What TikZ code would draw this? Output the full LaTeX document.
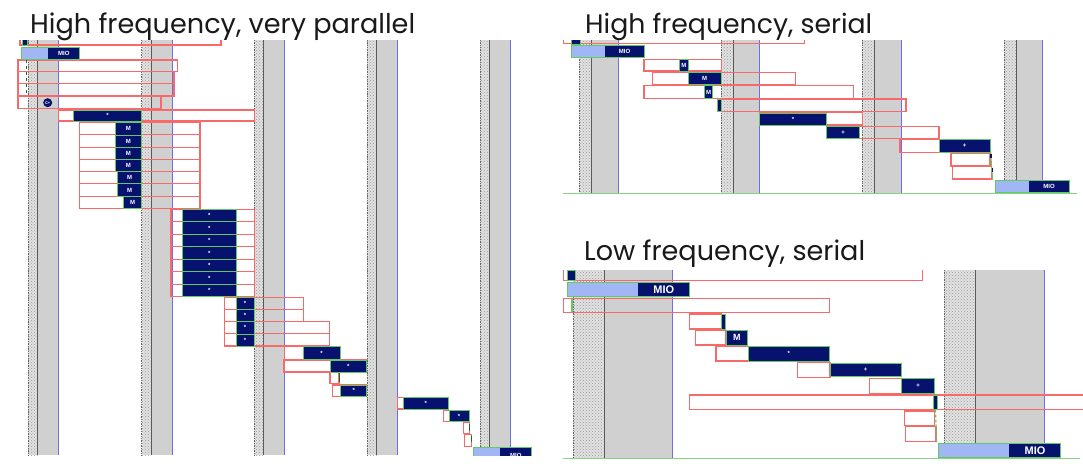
\documentclass[tikz,border=0pt]{standalone}
\usepackage{fontspec}
\setmainfont{Liberation Sans}
\newfontfamily\titlefont{Poppins}
\newfontfamily\labfont{Liberation Sans}
\usetikzlibrary{patterns}
\definecolor{navy}{RGB}{6,18,110}
\definecolor{bargreen}{RGB}{100,200,100}
\definecolor{redline}{RGB}{248,105,105}
\definecolor{lightblue}{RGB}{160,182,245}
\definecolor{graycol}{RGB}{208,208,208}
\definecolor{dotbg}{RGB}{226,226,226}
\definecolor{blueline}{RGB}{110,110,235}
\definecolor{dkgreen}{RGB}{20,110,40}
\definecolor{titlecol}{RGB}{25,25,25}
\newcounter{barno}
\tikzset{
  redbox/.style={draw=redline, line width=1.1pt},
  navybar/.style={fill=navy, draw=bargreen, line width=0.8pt},
  barlabel/.style={text=white, inner sep=0pt, font=\labfont\bfseries\fontsize{6}{6}\selectfont},
  biglabel/.style={text=white, inner sep=0pt, font=\labfont\bfseries\fontsize{11}{11}\selectfont},
  titlestyle/.style={text=titlecol, inner sep=0pt, anchor=base west},
  baseline line/.style={draw=bargreen!80, line width=1pt},
  depmark/.style={draw=dkgreen, line width=1.3pt},
}
% stripe: x, dotted width, gray width, ytop, ybottom
\newcommand\stripe[5]{%
  \fill[dotbg] (#1,#4) rectangle ({#1+#2},#5);
  \fill[pattern=crosshatch dots, pattern color=black!40] (#1,#4) rectangle ({#1+#2},#5);
  \fill[graycol] ({#1+#2},#4) rectangle ({#1+#2+#3},#5);
  \draw[black!60, densely dotted, line width=0.7pt] (#1,#4) -- (#1,#5);
  \draw[black!65, line width=0.8pt] ({#1+#2},#4) -- ({#1+#2},#5);
  \draw[blueline, line width=0.9pt] ({#1+#2+#3},#4) -- ({#1+#2+#3},#5);
}
\newcommand\rb[4]{\draw[redbox] (#1,#2) rectangle (#3,#4);}
% labelled navy bar: x1,y1,x2,y2,label
\newcommand\nb[5]{%
  \stepcounter{barno}%
  \draw[navybar] (#1,#2) rectangle (#3,#4);
  \node[barlabel] (bar\arabic{barno}) at ({(#1+#3)/2},{(#2+#4)/2}) {#5};
}
% unlabelled navy bar
\newcommand\nbx[4]{\draw[navybar] (#1,#2) rectangle (#3,#4);}
% MIO bar: x1,y1,xmid,x2,y2,style
\newcommand\mio[6]{%
  \stepcounter{barno}%
  \fill[lightblue] (#1,#2) rectangle (#3,#5);
  \fill[navy] (#3,#2) rectangle (#4,#5);
  \draw[bargreen, line width=0.8pt] (#1,#2) rectangle (#4,#5);
  \node[#6] (mio\arabic{barno}) at ({(#3+#4)/2},{(#2+#5)/2}) {MIO};
}
\begin{document}
\begin{tikzpicture}[x=1pt,y=-1pt]
\useasboundingbox (0,0) rectangle (1083,463);
\fill[white] (0,0) rectangle (1083,463);

% ---------------- titles ----------------
\node[titlestyle] (title1) at (30,33.3) {\resizebox{385pt}{!}{\titlefont High frequency, very parallel}};
\node[titlestyle] (title2) at (585,33.3) {\resizebox{287pt}{!}{\titlefont High frequency, serial}};
\node[titlestyle] (title3) at (584,260) {\resizebox{281pt}{!}{\titlefont Low frequency, serial}};

% ---------------- left panel ----------------
\begin{scope}
\clip (15,40) rectangle (540,455);
\foreach \cx in {28,141.7,254.3,367,480} {\stripe{\cx}{9.5}{21}{40}{455}}
% red boxes
\rb{20}{30}{221}{45}
\rb{18}{60}{177.7}{71.7}
\rb{18}{71.7}{174}{83.3}
\rb{18}{83.3}{174}{96}
\rb{18}{96}{161}{108.3}
\rb{58.3}{110}{254.3}{121}
\foreach \i in {0,...,6} {
  \pgfmathsetmacro\ya{122.7+\i*12.23}\pgfmathsetmacro\yb{\ya+12.23}
  \rb{79.3}{\ya}{200}{\yb}
}
\foreach \i in {0,...,6} {
  \pgfmathsetmacro\ya{209.3+\i*12.486}\pgfmathsetmacro\yb{\ya+12.486}
  \rb{171}{\ya}{254.3}{\yb}
}
\foreach \i/\xr in {0/303.3,1/303.3,2/329.3,3/329.3} {
  \pgfmathsetmacro\ya{297.7+\i*12.075}\pgfmathsetmacro\yb{\ya+12.075}
  \rb{224.3}{\ya}{\xr}{\yb}
}
\rb{284.3}{346.7}{340}{359.3}
\rb{284}{360}{366.7}{372}
\rb{330}{371.7}{339}{383.3}
\rb{332.3}{385}{366.7}{396.7}
\rb{397.3}{397.7}{448.3}{409}
\rb{443.3}{410.7}{469}{421.7}
\rb{463.3}{422.3}{469.3}{433.3}
\rb{464.3}{434.3}{471.7}{446.7}
% navy bars
\nbx{22}{38}{27}{45}
\mio{21.7}{47.3}{48.3}{79.3}{59}{barlabel}
\draw[dkgreen, dashed, line width=1.2pt] (26.7,60) -- (26.7,95);
\node[circle, fill=navy, inner sep=0pt, minimum size=9pt, text=white,
      font=\labfont\bfseries\fontsize{4}{4}\selectfont] (cplus) at (47.7,102.7) {C+};
\nb{73.3}{110}{141.7}{121}{*}
\foreach \i/\xl in {0/115,1/115,2/115,3/115,4/117.3,5/117.3,6/123.3} {
  \pgfmathsetmacro\ya{122.7+\i*12.23}\pgfmathsetmacro\yb{\ya+12.23}
  \nb{\xl}{\ya}{141.7}{\yb}{M}
}
\foreach \i in {0,...,6} {
  \pgfmathsetmacro\ya{209.3+\i*12.486}\pgfmathsetmacro\yb{\ya+12.486}
  \nb{182.7}{\ya}{236}{\yb}{*}
}
\foreach \i in {0,...,3} {
  \pgfmathsetmacro\ya{297.7+\i*12.075}\pgfmathsetmacro\yb{\ya+12.075}
  \nb{236}{\ya}{254.3}{\yb}{*}
}
\nb{303.3}{346.7}{340}{359.3}{*}
\nb{330}{360}{366.7}{372}{*}
\draw[depmark] (339.3,373) -- (339.3,382);
\nb{340.7}{385}{366.7}{396.7}{*}
\nb{403.3}{397.7}{448.3}{409}{*}
\nb{449}{410.7}{469}{421.7}{*}
\draw[depmark] (469.8,424) -- (469.8,431);
\draw[depmark] (471.8,436) -- (471.8,442);
\mio{473.3}{447.7}{500}{531.7}{463}{barlabel}
\end{scope}

% ---------------- top right panel ----------------
\begin{scope}
\clip (563,40) rectangle (1080,195);
\foreach \cx in {579.3,721,862.3,1004} {\stripe{\cx}{12.3}{26.6}{40}{193.3}}
\draw[baseline line] (563,193.3) -- (1077,193.3);
\rb{563}{30}{804.3}{43.3}
\rb{644}{59.3}{721.7}{71}
\rb{652.7}{72.3}{795.7}{84.3}
\rb{644}{85.7}{853.3}{98.3}
\rb{717.3}{99}{906}{111.7}
\rb{759.3}{112.5}{862.3}{125}
\rb{826.7}{126.7}{939}{138.3}
\rb{900}{139.3}{990}{152.3}
\rb{951}{153.3}{990}{166}
\rb{952.7}{166.7}{991.7}{179}
\nbx{571.7}{38}{580}{44}
\mio{571}{45.7}{605}{644}{57.3}{barlabel}
\nb{679.3}{59.3}{688.3}{71}{M}
\nb{688.3}{72.3}{721}{84.3}{M}
\nb{704.3}{85.7}{712.7}{98.3}{M}
\nbx{717.3}{99}{721}{111}
\nb{759.3}{113.3}{826.7}{125}{*}
\nb{826.7}{126.7}{859.3}{138.3}{+}
\nb{939.3}{139.3}{990}{152.3}{+}
\draw[bargreen, line width=1pt] (990.8,152.3) -- (991.5,166) -- (992.8,180);
\draw[navy, line width=1.5pt] (991,153.5) -- (991,157.5);
\draw[navy, line width=1.5pt] (992.6,167.5) -- (992.6,171.5);
\mio{995}{180.7}{1029}{1069}{192.3}{barlabel}
\end{scope}

% ---------------- bottom right panel ----------------
\begin{scope}
\clip (563,270) rectangle (1083,460);
\stripe{573.3}{30.7}{68.7}{270}{458.3}
\stripe{944.3}{31.4}{68.6}{270}{458.3}
\draw[baseline line] (563,458.3) -- (1080,458.3);
\rb{563}{260}{922.7}{280.7}
\rb{563}{298.3}{829.3}{312.3}
\rb{689.3}{314}{721.7}{329}
\rb{695.7}{330.7}{726}{345}
\rb{716}{346.7}{748.3}{361}
\rb{797.7}{362.7}{830}{377.3}
\rb{869.3}{378.3}{901.7}{393.3}
\rb{689.3}{395}{1095}{409.3}
\rb{904.3}{411}{934.3}{425.7}
\rb{905.7}{426.7}{936}{441.7}
\nbx{567.3}{270}{575}{280}
\mio{567.3}{282.3}{638.3}{689.3}{296.7}{biglabel}
\draw[bargreen, line width=1.5pt] (572,299) -- (572,311.5);
\nbx{721.7}{314}{725.7}{329}
\nb{726}{330.7}{747.7}{345}{\fontsize{9}{9}\selectfont M}
\nb{748.3}{346.7}{829.3}{361}{*}
\nb{830}{363.3}{901}{376.7}{+}
\nb{901.7}{378.3}{934.3}{393.3}{+}
\nbx{933.3}{395}{937.7}{409}
\draw[bargreen, densely dashed, line width=1.2pt] (935.5,409.5) -- (936.5,442);
\mio{938.3}{443.3}{1009.3}{1060.7}{457.7}{biglabel}
\end{scope}
\end{tikzpicture}
\end{document}
